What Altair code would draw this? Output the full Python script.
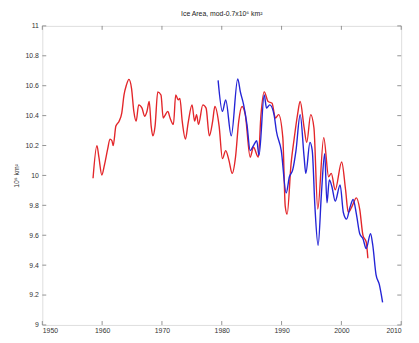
import altair as alt
import pandas as pd

# Model (red) series
mod_years = [1958.48, 1959.13, 1959.46, 1959.95, 1960.38, 1960.93, 1961.31, 1961.64, 1961.85, 1962.30,
             1962.84, 1963.28, 1963.66, 1964.05, 1964.48, 1964.92, 1965.30, 1965.69, 1966.11, 1966.67,
             1967.10, 1967.49, 1967.87, 1968.20, 1968.48, 1968.85, 1969.30, 1969.84, 1970.21, 1970.44,
             1970.98, 1971.36, 1971.92, 1972.30, 1972.74, 1973.00, 1973.39, 1973.93, 1974.38, 1975.03,
             1975.46, 1975.79, 1976.11, 1976.84, 1977.38, 1977.92, 1978.48, 1978.85, 1979.56, 1980.11,
             1980.66, 1981.20, 1981.75, 1982.30, 1982.84, 1983.39, 1983.93, 1984.75, 1985.30, 1986.11,
             1986.56, 1987.10, 1987.75, 1988.41, 1988.97, 1989.51, 1990.21, 1990.61, 1990.93, 1991.59,
             1992.13, 1992.67, 1993.11, 1993.77, 1994.21, 1994.87, 1995.41, 1996.05, 1997.05, 1997.87,
             1998.31, 1998.97, 2000.05, 2000.70, 2001.15, 2001.80, 2002.51, 2003.07, 2003.61, 2004.15,
             2004.43]
mod_vals = [9.981, 10.199, 10.122, 10.003, 10.068, 10.177, 10.243, 10.232, 10.199, 10.330,
            10.363, 10.417, 10.538, 10.603, 10.642, 10.581, 10.428, 10.363, 10.472, 10.450,
            10.396, 10.428, 10.494, 10.330, 10.265, 10.330, 10.559, 10.538, 10.384, 10.396,
            10.428, 10.384, 10.341, 10.538, 10.505, 10.515, 10.363, 10.243, 10.352, 10.472,
            10.363, 10.407, 10.341, 10.472, 10.450, 10.265, 10.363, 10.461, 10.330, 10.112,
            10.166, 10.101, 10.014, 10.122, 10.363, 10.461, 10.407, 10.122, 10.188, 10.122,
            10.407, 10.559, 10.494, 10.483, 10.384, 10.407, 10.253, 9.795, 9.741, 10.079,
            10.253, 10.407, 10.494, 10.319, 10.221, 10.407, 10.319, 9.775, 10.253, 9.991,
            10.014, 9.904, 10.090, 9.904, 9.752, 9.795, 9.850, 9.773, 9.599, 9.555,
            9.446]

obs_years = [1979.39, 1980.11, 1980.66, 1981.59, 1982.67, 1983.11, 1983.66, 1984.21, 1984.75, 1985.30,
             1985.85, 1986.23, 1987.10, 1987.49, 1988.03, 1988.74, 1989.13, 1989.95, 1990.77, 1991.31,
             1991.85, 1992.41, 1993.11, 1993.77, 1994.05, 1994.75, 1995.13, 1995.57, 1996.11, 1996.67,
             1997.21, 1997.59, 1997.98, 1998.41, 1998.97, 1999.79, 2000.33, 2000.87, 2001.43, 2001.97,
             2002.51, 2003.07, 2003.61, 2004.15, 2004.87, 2005.25, 2005.79, 2006.34, 2006.89]
obs_vals = [10.636, 10.428, 10.505, 10.265, 10.646, 10.559, 10.472, 10.341, 10.166, 10.199,
            10.232, 10.134, 10.538, 10.450, 10.472, 10.407, 10.297, 10.166, 9.883, 9.991,
            10.035, 10.166, 10.407, 10.122, 10.014, 10.221, 10.166, 9.795, 9.533, 9.883,
            10.145, 9.817, 9.970, 9.926, 9.828, 9.937, 9.752, 9.708, 9.785, 9.839,
            9.741, 9.610, 9.577, 9.511, 9.610, 9.533, 9.337, 9.271, 9.151]

x_ticks = [1950, 1960, 1970, 1980, 1990, 2000, 2010]
y_ticks = [9, 9.2, 9.4, 9.6, 9.8, 10, 10.2, 10.4, 10.6, 10.8, 11]

mod = pd.DataFrame({"year": mod_years, "area": mod_vals})
obs = pd.DataFrame({"year": obs_years, "area": obs_vals})
xt = pd.DataFrame({"year": x_ticks})
yt = pd.DataFrame({"area": y_ticks})

W, H = 366, 305
FONT = "Liberation Sans"
xs = alt.Scale(domain=[1950, 2010], nice=False, zero=False)
ys = alt.Scale(domain=[9, 11], nice=False, zero=False)

x_axis = alt.Axis(values=x_ticks, format="d", ticks=False, grid=False, domain=False,
                  labelFontSize=7, labelColor="#333", labelPadding=2, labelFont=FONT,
                  title=None)
y_axis = alt.Axis(values=y_ticks, format="~g", ticks=False, grid=False, domain=False,
                  labelFontSize=7, labelColor="#333", labelPadding=4, labelFont=FONT,
                  title="10⁶ km²", titleFontSize=7, titleFontWeight="normal",
                  titleFont=FONT, titleColor="#333", titlePadding=6)

X = alt.X("year:Q", scale=xs, axis=x_axis)
Y = alt.Y("area:Q", scale=ys, axis=y_axis)

red = alt.Chart(mod).mark_line(color="#e3262a", strokeWidth=1.4, interpolate="monotone").encode(x=X, y=Y)
blue = alt.Chart(obs).mark_line(color="#2424d6", strokeWidth=1.4, interpolate="monotone").encode(x=X, y=Y)

tick_style = dict(color="#777", strokeWidth=0.8)
bx = alt.Chart(xt).mark_rule(**tick_style).encode(x=X, y=alt.value(H), y2=alt.value(H - 4))
tx = alt.Chart(xt).mark_rule(**tick_style).encode(x=X, y=alt.value(0), y2=alt.value(4))
ly = alt.Chart(yt).mark_rule(**tick_style).encode(y=Y, x=alt.value(0), x2=alt.value(4))
ry = alt.Chart(yt).mark_rule(**tick_style).encode(y=Y, x=alt.value(W), x2=alt.value(W - 4))

chart = alt.layer(red, blue, bx, tx, ly, ry).properties(
    width=W, height=H,
    title=alt.TitleParams("Ice Area, mod-0.7x10⁶ km²", fontSize=7, fontWeight="normal",
                          font=FONT, color="#222", offset=5, anchor="middle"),
    padding={"left": 35, "top": 15, "right": 10, "bottom": 7},
    autosize="none",
).configure_view(stroke="#777", strokeWidth=0.8).configure(background="white")

chart.save("out.html", embed_options={"renderer": "svg", "actions": False})
